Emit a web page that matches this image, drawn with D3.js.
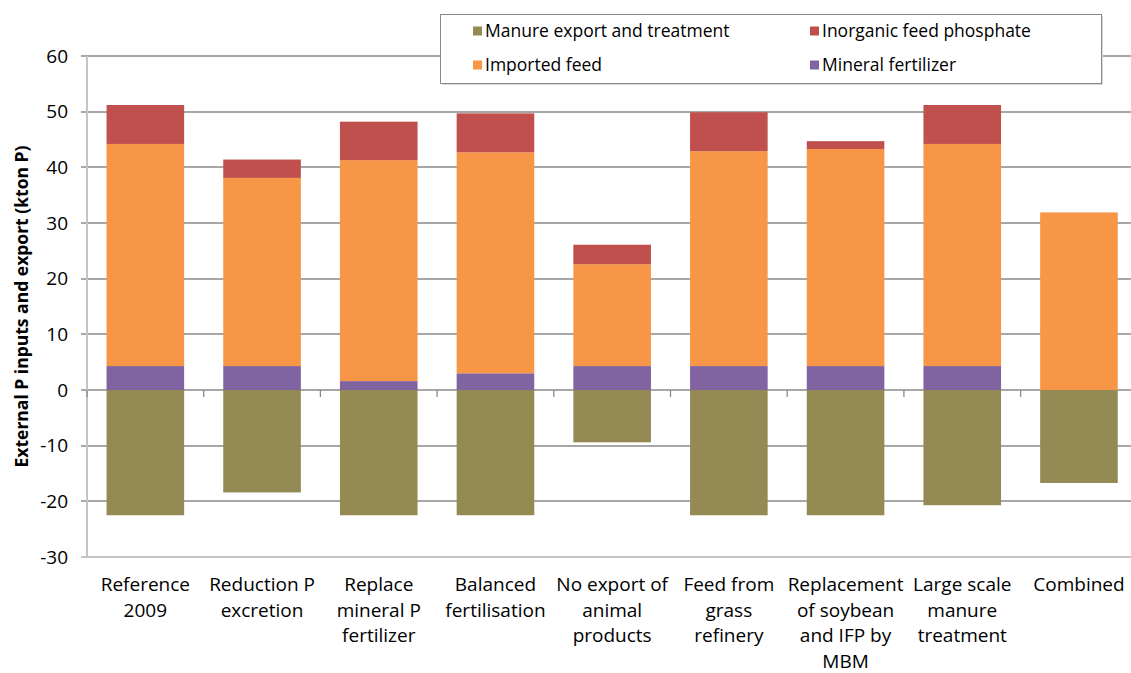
<!DOCTYPE html>
<html lang="en">
<head>
    <meta charset="UTF-8">
    <title>External P inputs and export</title>
    <style>
        body { margin: 0; background: #fff; }
        svg { display: block; font-family: "Open Sans", sans-serif; }
        .tick-label { font-size: 19px; fill: #000; }
        .cat-label { font-size: 19px; fill: #000; text-anchor: middle; }
        .legend-text { font-size: 17.5px; fill: #000; }
        .y-title { font-size: 17.5px; font-weight: bold; fill: #000; text-anchor: middle; }
    </style>
</head>
<body>
    <svg></svg>
    <script src="https://cdn.jsdelivr.net/npm/d3@7"></script>
    <script>
        // categories (line breaks as in the picture)
        var categories = [
            "Reference\n2009",
            "Reduction P\nexcretion",
            "Replace\nmineral P\nfertilizer",
            "Balanced\nfertilisation",
            "No export of\nanimal\nproducts",
            "Feed from\ngrass\nrefinery",
            "Replacement\nof soybean\nand IFP by\nMBM",
            "Large scale\nmanure\ntreatment",
            "Combined"
        ];

        // series values (kton P)
        var mineralFertilizer = [4.3, 4.3, 1.6, 3.0, 4.3, 4.3, 4.3, 4.3, 0];
        var importedFeed      = [39.9, 33.8, 39.7, 39.7, 18.3, 38.6, 39.0, 39.9, 31.9];
        var inorganicFeed     = [7.0, 3.3, 6.9, 7.0, 3.5, 7.0, 1.4, 7.0, 0];
        var manureExport      = [-22.5, -18.4, -22.5, -22.5, -9.4, -22.5, -22.5, -20.7, -16.7];

        var yTicks = [-30, -20, -10, 0, 10, 20, 30, 40, 50, 60];

        var W = 1131, H = 673;
        var plotLeft = 87, plotRight = 1137.3, plotTop = 56, plotBottom = 557;

        var svg = d3.select('svg')
            .attr('width', W)
            .attr('height', H);

        var xScale = d3.scaleBand()
            .domain(d3.range(categories.length))
            .range([plotLeft, plotRight])
            .paddingInner(0.335)
            .paddingOuter(0.1675);

        var yScale = d3.scaleLinear()
            .domain([-30, 60])
            .range([plotBottom, plotTop]);

        // gridlines
        svg.append('g')
            .selectAll('line')
            .data(yTicks)
            .enter()
            .append('line')
            .attr('x1', plotLeft - 6)
            .attr('x2', W)
            .attr('y1', function (d) { return Math.round(yScale(d)); })
            .attr('y2', function (d) { return Math.round(yScale(d)); })
            .attr('stroke', function (d) { return d === -30 ? '#c4c4c4' : '#8a8a8a'; })
            .attr('stroke-width', function (d) { return d === -30 ? 2 : 1.3; });

        // y axis line
        svg.append('line')
            .attr('x1', plotLeft).attr('x2', plotLeft)
            .attr('y1', plotTop).attr('y2', plotBottom)
            .attr('stroke', '#c4c4c4')
            .attr('stroke-width', 2);

        // y tick labels
        svg.append('g')
            .selectAll('text')
            .data(yTicks)
            .enter()
            .append('text')
            .attr('class', 'tick-label')
            .attr('x', 68)
            .attr('y', function (d) { return yScale(d); })
            .attr('dy', '0.35em')
            .attr('text-anchor', 'end')
            .text(function (d) { return d; });

        // stacked bars
        var series = [
            { name: 'Mineral fertilizer', values: mineralFertilizer, color: '#8064A2' },
            { name: 'Imported feed', values: importedFeed, color: '#F79646' },
            { name: 'Inorganic feed phosphate', values: inorganicFeed, color: '#C0504D' }
        ];

        var rows = categories.map(function (c, i) {
            var segs = [];
            var base = 0;
            series.forEach(function (s) {
                var v = s.values[i];
                if (v > 0) segs.push({ y0: base, y1: base + v, color: s.color });
                base += v;
            });
            segs.push({ y0: manureExport[i], y1: 0, color: '#948A54' });
            return segs;
        });

        var groups = svg.append('g')
            .selectAll('g')
            .data(rows)
            .enter()
            .append('g')
            .attr('transform', function (d, i) { return 'translate(' + xScale(i) + ',0)'; });

        groups.selectAll('rect')
            .data(function (d) { return d; })
            .enter()
            .append('rect')
            .attr('x', 0)
            .attr('width', xScale.bandwidth())
            .attr('y', function (d) { return yScale(Math.max(d.y0, d.y1)); })
            .attr('height', function (d) { return Math.abs(yScale(d.y0) - yScale(d.y1)); })
            .attr('fill', function (d) { return d.color; });

        // x axis at zero with ticks between categories
        var step = xScale.step();
        svg.append('g')
            .selectAll('line')
            .data(d3.range(categories.length + 1))
            .enter()
            .append('line')
            .attr('x1', function (d) { return plotLeft + d * step; })
            .attr('x2', function (d) { return plotLeft + d * step; })
            .attr('y1', yScale(0))
            .attr('y2', yScale(0) + 7)
            .attr('stroke', '#8a8a8a')
            .attr('stroke-width', 1.3);

        // category labels
        var cat = svg.append('g')
            .selectAll('text')
            .data(categories)
            .enter()
            .append('text')
            .attr('class', 'cat-label')
            .attr('x', function (d, i) { return xScale(i) + xScale.bandwidth() / 2; })
            .attr('y', 591);

        cat.selectAll('tspan')
            .data(function (d) { return d.split('\n'); })
            .enter()
            .append('tspan')
            .attr('x', function () { return d3.select(this.parentNode).attr('x'); })
            .attr('dy', function (d, i) { return i === 0 ? 0 : 25.6; })
            .text(function (d) { return d; });

        // y axis title
        svg.append('text')
            .attr('class', 'y-title')
            .attr('transform', 'translate(28,' + ((plotTop + plotBottom) / 2) + ') rotate(-90)')
            .text('External P inputs and export (kton P)');

        // legend
        var legend = svg.append('g');
        legend.append('rect')
            .attr('x', 442).attr('y', 16)
            .attr('width', 661).attr('height', 69)
            .attr('fill', '#d9d9d9');
        legend.append('rect')
            .attr('x', 440.5).attr('y', 14.5)
            .attr('width', 661).attr('height', 69)
            .attr('fill', '#fff')
            .attr('stroke', '#8a8a8a')
            .attr('stroke-width', 1);

        var legendItems = [
            { name: 'Manure export and treatment', color: '#948A54', x: 473, y: 31 },
            { name: 'Inorganic feed phosphate', color: '#C0504D', x: 810, y: 31 },
            { name: 'Imported feed', color: '#F79646', x: 473, y: 65 },
            { name: 'Mineral fertilizer', color: '#8064A2', x: 810, y: 65 }
        ];

        var li = legend.selectAll('.li')
            .data(legendItems)
            .enter()
            .append('g')
            .attr('class', 'li');

        li.append('rect')
            .attr('x', function (d) { return d.x; })
            .attr('y', function (d) { return d.y - 4.5; })
            .attr('width', 9)
            .attr('height', 9)
            .attr('fill', function (d) { return d.color; });

        li.append('text')
            .attr('class', 'legend-text')
            .attr('x', function (d) { return d.x + 12; })
            .attr('y', function (d) { return d.y; })
            .attr('dy', '0.35em')
            .text(function (d) { return d.name; });
    </script>
</body>
</html>
